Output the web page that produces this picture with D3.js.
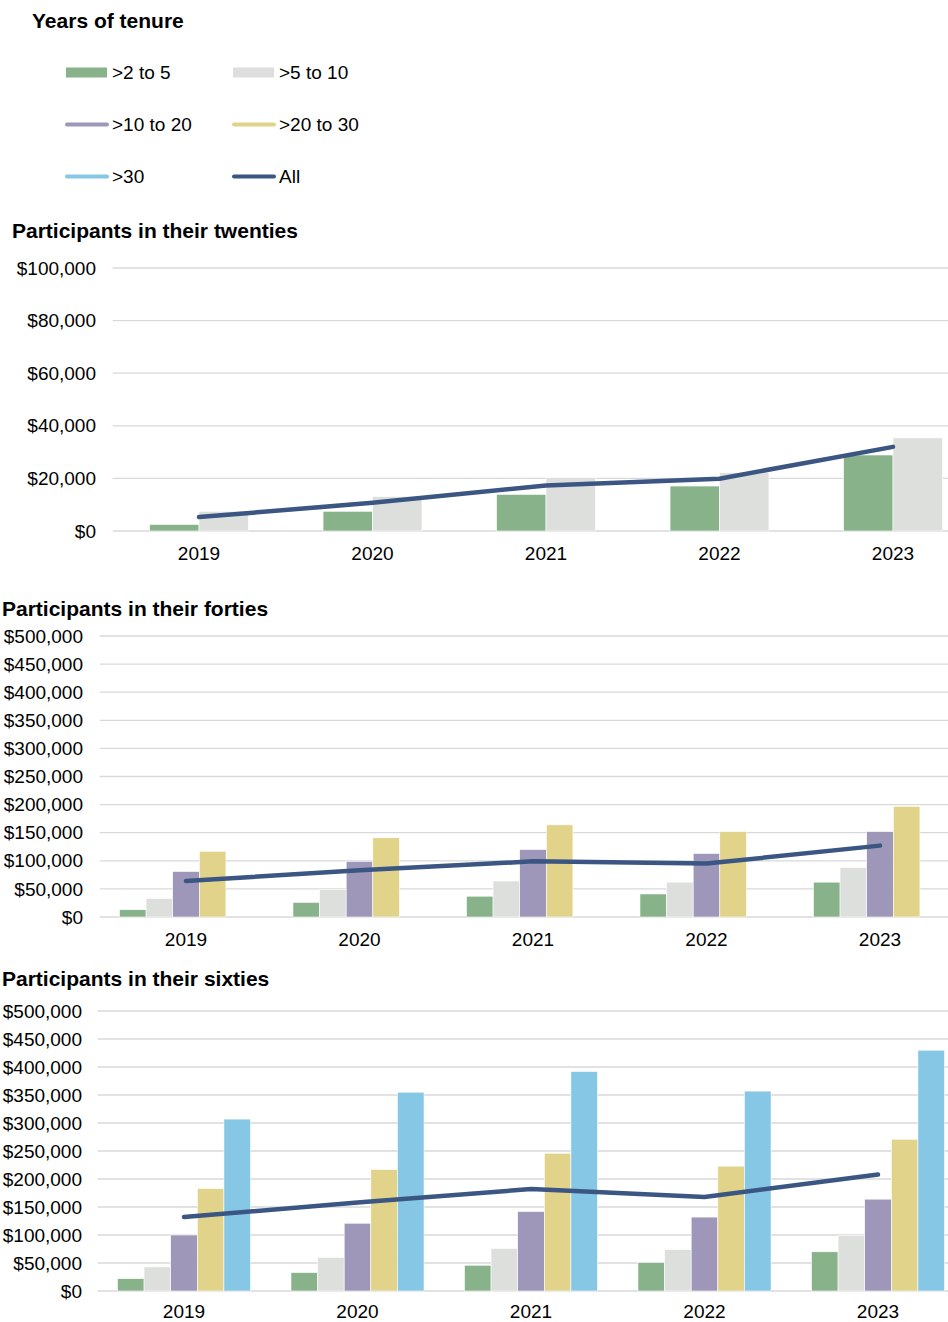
<!DOCTYPE html>
<meta charset="utf-8">
<head>
  <script src="https://d3js.org/d3.v7.min.js"></script>
  <style>
    body { margin: 0; background: #fff; }
    text { font-family: "Liberation Sans", Arial, sans-serif; fill: #000; }
  </style>
</head>
<body>
<div id="container"></div>
<script>
// Data
var years = ["2019", "2020", "2021", "2022", "2023"];
var tenures = [">2 to 5", ">5 to 10", ">10 to 20", ">20 to 30", ">30"];
var tenureColors = ["#88b38a", "#dcdfdb", "#9e97b9", "#e2d38a", "#86c7e6"];
var allColor = "#3b5683";

// twenties: only two tenure groups
var twentiesValues = [
  [2500, 7500, 13900, 17100, 28900],
  [7500, 13100, 20300, 22200, 35400]
];
var twentiesAll = [5300, 10700, 17300, 19900, 32000];

// forties: >30 is empty
var fortiesValues = [
  [13000, 26000, 37000, 41000, 62000],
  [33000, 49000, 64000, 62000, 88000],
  [81000, 99000, 120000, 113000, 152000],
  [117000, 141000, 164000, 152000, 197000],
  [null, null, null, null, null]
];
var fortiesAll = [64000, 83000, 99000, 95000, 127000];

var sixtiesValues = [
  [22000, 33000, 46000, 51000, 70000],
  [43000, 60000, 76000, 74000, 99000],
  [100000, 121000, 142000, 132000, 164000],
  [183000, 217000, 246000, 223000, 271000],
  [307000, 355000, 392000, 357000, 430000]
];
var sixtiesAll = [132000, 158000, 182000, 168000, 208000];

var width = 948, height = 1322;
var fmt = function(v) { return "$" + d3.format(",")(v); };

var svg = d3.select("#container").append("svg")
  .attr("width", width).attr("height", height);

// Legend
svg.append("text").attr("x", 32).attr("y", 28)
  .style("font-size", "21px").style("font-weight", "bold")
  .text("Years of tenure");

var legendItems = tenures.map(function(t, i) { return { name: t, color: tenureColors[i], type: i < 2 ? "rect" : "line" }; });
legendItems.push({ name: "All", color: allColor, type: "line" });

var leg = svg.append("g").selectAll("g").data(legendItems).enter().append("g")
  .attr("transform", function(d, i) { return "translate(" + (i % 2 ? 233 : 66) + "," + (72.5 + Math.floor(i / 2) * 52) + ")"; });
leg.filter(function(d) { return d.type === "rect"; }).append("rect")
  .attr("x", 0).attr("y", -5).attr("width", 41).attr("height", 10)
  .attr("fill", function(d) { return d.color; });
leg.filter(function(d) { return d.type === "line"; }).append("line")
  .attr("x1", 1).attr("x2", 41).attr("y1", 0).attr("y2", 0)
  .attr("stroke", function(d) { return d.color; })
  .attr("stroke-width", 4).attr("stroke-linecap", "round");
leg.append("text").attr("x", 46).attr("y", 0).attr("dy", "0.35em")
  .style("font-size", "19px").text(function(d) { return d.name; });

function drawChart(cfg) {
  var g = svg.append("g");
  g.append("text").attr("x", cfg.titleX).attr("y", cfg.titleY)
    .style("font-size", "21px").style("font-weight", "bold").text(cfg.title);

  var x = d3.scaleBand().domain(years).range([cfg.left, cfg.right])
    .paddingInner(cfg.pad).paddingOuter(cfg.pad / 2);
  var xs = d3.scaleBand().domain(d3.range(cfg.values.length)).range([0, x.bandwidth()]);
  var y = d3.scaleLinear().domain([0, cfg.max]).range([cfg.bottom, cfg.top]);

  var ticks = d3.range(0, cfg.max + 1, cfg.step);
  g.selectAll(".grid").data(ticks).enter().append("line")
    .attr("x1", cfg.left + 0.5).attr("x2", width)
    .attr("y1", function(d) { return y(d); }).attr("y2", function(d) { return y(d); })
    .attr("stroke", "#d9d9d9").attr("stroke-width", 1.3);
  g.selectAll(".tick").data(ticks).enter().append("text")
    .attr("x", cfg.labelX).attr("y", function(d) { return y(d); }).attr("dy", "0.35em")
    .attr("text-anchor", "end").style("font-size", "19px").text(fmt);

  cfg.values.forEach(function(vals, si) {
    g.append("g").selectAll("rect")
      .data(vals.map(function(v, i) { return { year: years[i], v: v }; }).filter(function(d) { return d.v != null; }))
      .enter().append("rect")
      .attr("x", function(d) { return x(d.year) + xs(si); })
      .attr("width", xs.bandwidth())
      .attr("y", function(d) { return y(d.v); })
      .attr("height", function(d) { return y(0) - y(d.v); })
      .attr("fill", tenureColors[si])
      .attr("stroke", "#fff").attr("stroke-width", 0.6);
  });

  var line = d3.line()
    .x(function(d, i) { return x(years[i]) + x.bandwidth() / 2; })
    .y(function(d) { return y(d); });
  g.append("path").datum(cfg.all).attr("d", line)
    .attr("fill", "none").attr("stroke", allColor).attr("stroke-width", 4.5)
    .attr("stroke-linecap", "round").attr("stroke-linejoin", "round");

  g.selectAll(".year").data(years).enter().append("text")
    .attr("x", function(d) { return x(d) + x.bandwidth() / 2; })
    .attr("y", cfg.bottom + cfg.yearDy).attr("text-anchor", "middle")
    .style("font-size", "19px").text(function(d) { return d; });
}

drawChart({ title: "Participants in their twenties", titleX: 12, titleY: 238,
  values: twentiesValues, all: twentiesAll, max: 100000, step: 20000,
  left: 112.25, right: 979.75, top: 268, bottom: 531, labelX: 96, pad: 0.43, yearDy: 29 });
drawChart({ title: "Participants in their forties", titleX: 2, titleY: 616,
  values: fortiesValues, all: fortiesAll, max: 500000, step: 50000,
  left: 99.25, right: 966.75, top: 636, bottom: 917, labelX: 83, pad: 0.233, yearDy: 29 });
drawChart({ title: "Participants in their sixties", titleX: 2, titleY: 986,
  values: sixtiesValues, all: sixtiesAll, max: 500000, step: 50000,
  left: 97.25, right: 964.75, top: 1011, bottom: 1291, labelX: 82, pad: 0.233, yearDy: 27 });
</script>
</body>
